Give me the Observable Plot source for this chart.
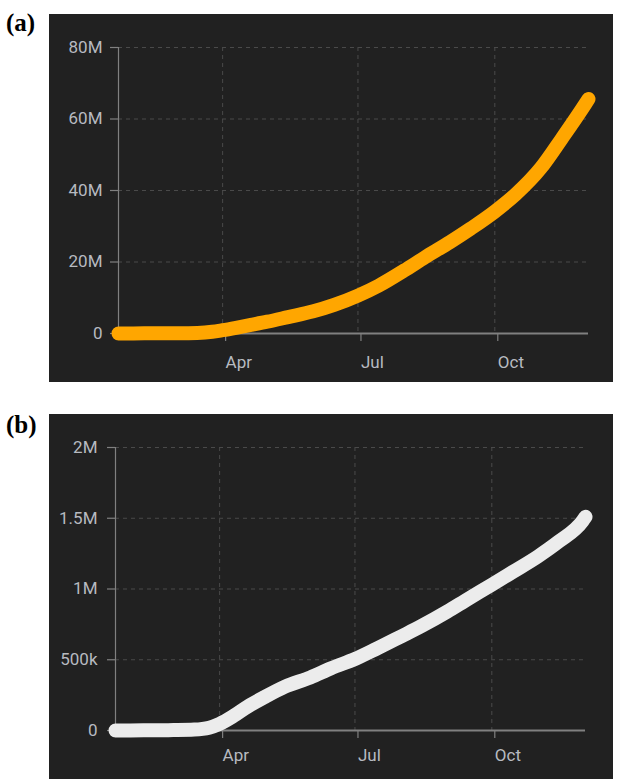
<!DOCTYPE html>
<html><head><meta charset="utf-8">
<script src="https://cdn.jsdelivr.net/npm/d3@7"></script>
<script src="https://cdn.jsdelivr.net/npm/@observablehq/plot@0.6"></script>
<style>
body{margin:0;background:#fff;width:622px;height:779px;position:relative;overflow:hidden}
.panel{position:absolute;background:#212121}
.panel svg{display:block}
.lab{position:absolute;font:bold 25px "Liberation Serif","Times New Roman",serif;line-height:25px;color:#000}
</style></head><body>
<div class="lab" style="left:6px;top:10px">(a)</div>
<div class="lab" style="left:6px;top:412px">(b)</div>
<div class="panel" id="pa" style="left:49px;top:14px;width:564px;height:368px"></div>
<div class="panel" id="pb" style="left:49px;top:414px;width:564px;height:365px"></div>
<script>
const dates = ["2020-01-22","2020-02-01","2020-02-15","2020-03-01","2020-03-15","2020-03-25","2020-04-01","2020-04-10","2020-04-20","2020-05-01","2020-05-15","2020-06-01","2020-06-15","2020-07-01","2020-07-15","2020-08-01","2020-08-15","2020-09-01","2020-09-15","2020-10-01","2020-10-15","2020-11-01","2020-11-15","2020-12-01","2020-12-03"];
const cases = [0.0006,0.012,0.07,0.09,0.17,0.47,0.93,1.6,2.4,3.3,4.6,6.2,8.0,10.6,13.4,17.6,21.3,25.6,29.4,34.1,38.9,46.3,54.5,64.3,65.6].map(v => v * 1e6);
const deaths = [0.00002,0.0003,0.0017,0.003,0.0065,0.02,0.047,0.1,0.17,0.235,0.31,0.375,0.44,0.505,0.575,0.665,0.74,0.84,0.93,1.03,1.12,1.23,1.335,1.48,1.51].map(v => v * 1e6);
const xTickDates = ["2020-04-01","2020-07-01","2020-10-01"];
const xTickLabels = ["Apr","Jul","Oct"];
const yTicksA = [0,20e6,40e6,60e6,80e6];
const yLabelsA = ["0","20M","40M","60M","80M"];
const yTicksB = [0,0.5e6,1e6,1.5e6,2e6];
const yLabelsB = ["0","500k","1M","1.5M","2M"];

const xTicks = xTickDates.map(d => new Date(d));
const parsed = dates.map(d => new Date(d));
const dataA = parsed.map((d, i) => ({date: d, value: cases[i]}));
const dataB = parsed.map((d, i) => ({date: d, value: deaths[i]}));

const labelColor = "#b7bac0";
const axisColor = "#808080";
const gridColor = "#4a4a4a";

function panel(el, data, yTicks, yLabels, color, opts) {
  const xDomain = [parsed[0], parsed[parsed.length - 1]];
  const chart = Plot.plot({
    width: opts.width, height: opts.height,
    marginLeft: opts.ml, marginRight: opts.mr, marginTop: opts.mt, marginBottom: opts.mb,
    style: {background: "#212121", fontFamily: "Roboto, sans-serif", fontSize: "17px", color: labelColor, overflow: "visible"},
    x: {type: "utc", domain: xDomain},
    y: {domain: [0, yTicks[yTicks.length - 1]]},
    marks: [
      Plot.gridY(yTicks, {stroke: gridColor, strokeOpacity: 1, strokeDasharray: "4,4", strokeWidth: 1}),
      Plot.gridX(xTicks, {stroke: gridColor, strokeOpacity: 1, strokeDasharray: "4,4", strokeWidth: 1}),
      Plot.axisY({ticks: yTicks, tickFormat: (d) => yLabels[yTicks.indexOf(d)], tickSize: 8, tickPadding: opts.ypad, stroke: axisColor, strokeWidth: 1.2, fill: labelColor, fontSize: 17, label: null}),
      Plot.axisX({ticks: xTicks, tickFormat: (d) => xTickLabels[xTicks.findIndex(t => +t === +d)], tickSize: 8, tickPadding: opts.xpad, textAnchor: "start", dx: 3, stroke: axisColor, strokeWidth: 1.2, fill: labelColor, fontSize: 17, label: null}),
      Plot.ruleX([xDomain[0]], {stroke: axisColor, strokeWidth: 1.2}),
      Plot.ruleY([0], {stroke: axisColor, strokeWidth: 2}),
      Plot.lineY(data, {x: "date", y: "value", stroke: color, strokeWidth: 14, strokeLinecap: "round", strokeLinejoin: "round", curve: "monotone-x"})
    ]
  });
  document.getElementById(el).appendChild(chart);
}

panel("pa", dataA, yTicksA, yLabelsA, "#ffa600", {width: 564, height: 368, ml: 69, mr: 25, mt: 33, mb: 49, ypad: 8, xpad: 14});
panel("pb", dataB, yTicksB, yLabelsB, "#ececec", {width: 564, height: 365, ml: 66, mr: 28, mt: 33, mb: 49, ypad: 10, xpad: 10});
</script>
</body></html>
